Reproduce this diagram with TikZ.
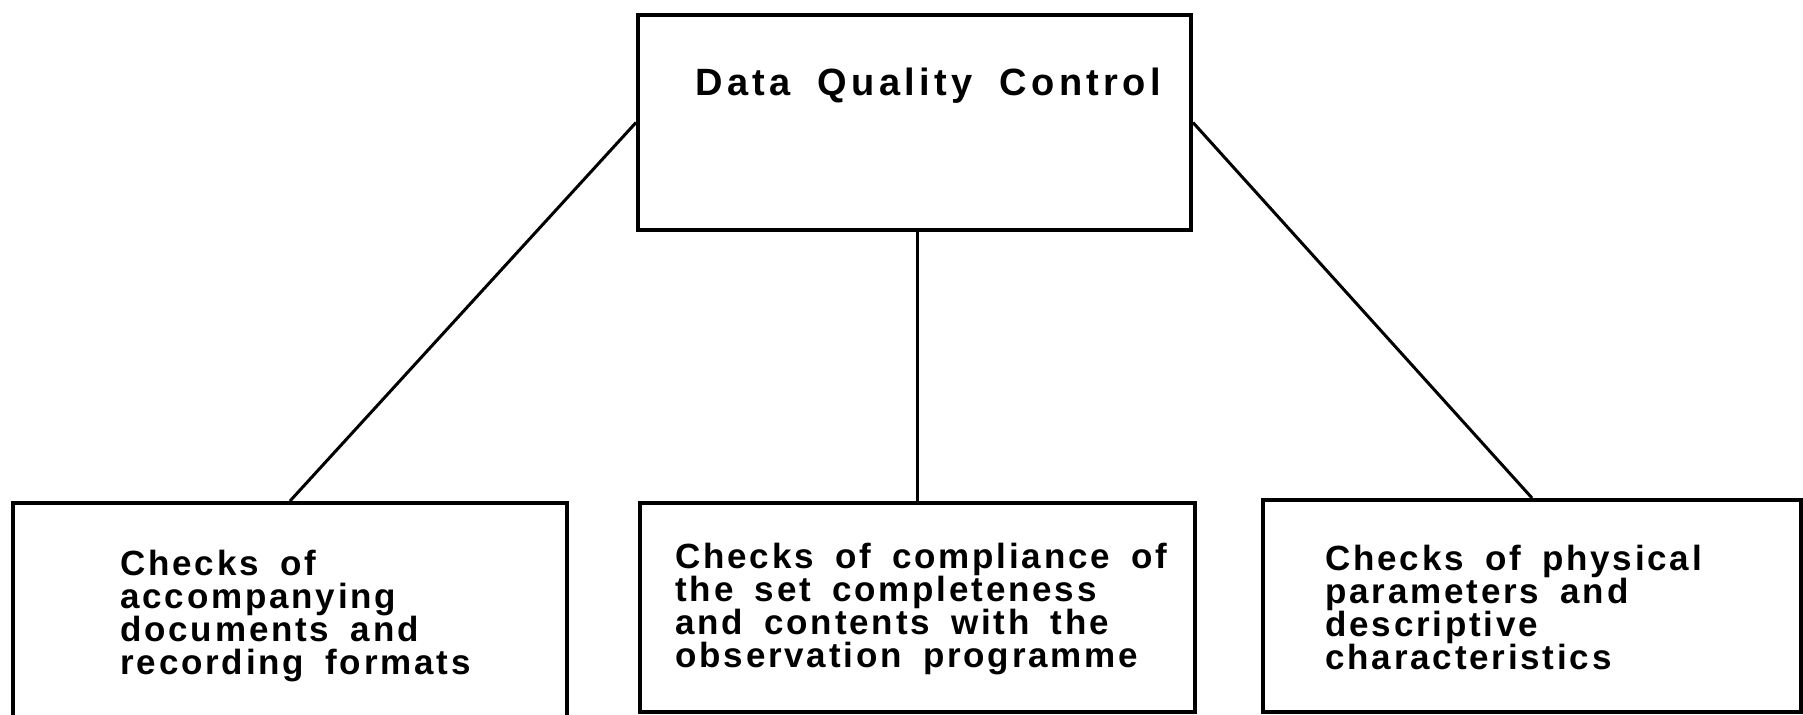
\documentclass[tikz,border=0pt]{standalone}
\usepackage{fontspec}
\setmainfont{Liberation Sans}
\newfontfamily\chkfont{Liberation Sans}[LetterSpace=8, WordSpace=1.7]
\newfontfamily\ttlfont{Liberation Sans}[LetterSpace=11.5, WordSpace=1.8]
\usetikzlibrary{positioning}

\begin{document}
\begin{tikzpicture}[
  x=0.5pt, y=-0.5pt,
  box/.style  = {draw, line width=2pt, inner sep=0pt},
  ttl/.style  = {anchor=north west, inner sep=0pt,
                 font=\ttlfont\bfseries\fontsize{19}{18}\selectfont},
  txt/.style  = {anchor=north west, inner sep=0pt, align=left,
                 font=\chkfont\bfseries\fontsize{17.5}{16.5}\selectfont},
  link/.style = {line width=1.5pt}
]
  \useasboundingbox (0,0) rectangle (1803,714);
  \clip (0,0) rectangle (1803,714);

  % boxes (px of the page, y down)
  \node[box, minimum width=276.5pt, minimum height=107.5pt] (dqc)   at ( 914.5,122.5) {};
  \node[box, minimum width=277pt,   minimum height=113.5pt] (docs)  at ( 290,  616.5) {};
  \node[box, minimum width=277.5pt, minimum height=104.5pt] (compl) at ( 917.5,607.5) {};
  \node[box, minimum width=269pt,   minimum height=106pt]   (phys)  at (1532,  606)   {};

  \node[ttl] (dqcT) at (695,68) {Data Quality Control};
  \node[txt] (docsT) at (120,550)
    {Checks of\\accompanying\\documents and\\recording formats};
  \node[txt] (complT) at (675,543)
    {Checks of compliance of\\the set completeness\\and contents with the\\observation programme};
  \node[txt] (physT) at (1325,545)
    {Checks of physical\\parameters and\\descriptive\\characteristics};

  \draw[link] (dqc.west) -- (docs.north);
  \draw[link] (compl.north |- dqc.south) -- (compl.north);
  \draw[link] (dqc.east) -- (phys.north);
\end{tikzpicture}
\end{document}
